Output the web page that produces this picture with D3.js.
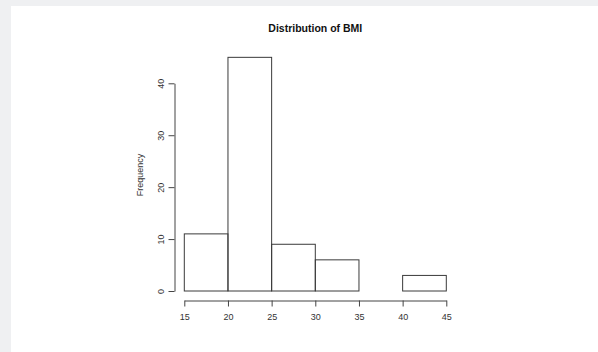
<!DOCTYPE html>
<html>
<head>
<meta charset="utf-8">
<script src="https://cdn.jsdelivr.net/npm/d3@7"></script>
<style>
  body { margin: 0; background: #eff0f2; }
  svg { display: block; }
</style>
</head>
<body>
<script>
// histogram bins (BMI) and counts
var binStarts = [15, 20, 25, 30, 35, 40];
var binWidth = 5;
var counts = [11, 45, 9, 6, 0, 3];
var xTicks = [15, 20, 25, 30, 35, 40, 45];
var yTicks = [0, 10, 20, 30, 40];

var w = 598;
var h = 352;

var svg = d3.select("body")
    .append("svg")
    .attr("width", w)
    .attr("height", h);

// white panel
svg.append("rect")
    .attr("x", 11)
    .attr("y", 6)
    .attr("width", w - 11)
    .attr("height", h - 6)
    .attr("fill", "white");

var xScale = d3.scaleLinear()
    .domain([15, 45])
    .range([184.3, 446.3]);

var yScale = d3.scaleLinear()
    .domain([0, 40])
    .range([291, 83.3]);

// bars
svg.selectAll("rect.bar")
    .data(counts)
    .enter()
    .append("rect")
    .attr("class", "bar")
    .attr("x", (d, i) => xScale(binStarts[i]))
    .attr("y", d => yScale(d))
    .attr("width", (d, i) => xScale(binStarts[i] + binWidth) - xScale(binStarts[i]))
    .attr("height", d => yScale(0) - yScale(d))
    .attr("fill", "none")
    .attr("stroke", "#3a3a3a")
    .attr("stroke-width", 1);

// x axis, R style
var xAxis = d3.axisBottom(xScale)
    .tickValues(xTicks)
    .tickSize(6)
    .tickSizeOuter(0);

var gx = svg.append("g")
    .attr("transform", "translate(0,300.5)")
    .call(xAxis);

// y axis, R style
var yAxis = d3.axisLeft(yScale)
    .tickValues(yTicks)
    .tickSize(6)
    .tickSizeOuter(0);

var gy = svg.append("g")
    .attr("transform", "translate(174.5,0)")
    .call(yAxis);

svg.selectAll(".domain, .tick line")
    .attr("stroke", "#444");

gx.selectAll("text")
    .attr("font-family", "Liberation Sans, Arial, sans-serif")
    .attr("font-size", "9px")
    .attr("fill", "#333")
    .attr("dy", "0.9em")
    .attr("y", 11);

// rotated y tick labels
gy.selectAll(".tick text")
    .attr("font-family", "Liberation Sans, Arial, sans-serif")
    .attr("font-size", "9px")
    .attr("fill", "#333")
    .attr("text-anchor", "middle")
    .attr("transform", "rotate(-90)")
    .attr("x", 0)
    .attr("y", -11)
    .attr("dy", "0");

// title
svg.append("text")
    .text("Distribution of BMI")
    .attr("x", (xScale(15) + xScale(45)) / 2)
    .attr("y", 28)
    .attr("dy", "0.35em")
    .attr("text-anchor", "middle")
    .attr("font-family", "Liberation Sans, Arial, sans-serif")
    .attr("font-weight", "bold")
    .attr("font-size", "10.5px")
    .attr("fill", "#111");

// y label
svg.append("text")
    .text("Frequency")
    .attr("transform", "translate(140,175) rotate(-90)")
    .attr("text-anchor", "middle")
    .attr("dy", "0.35em")
    .attr("font-family", "Liberation Sans, Arial, sans-serif")
    .attr("font-size", "9px")
    .attr("fill", "#333");
</script>
</body>
</html>
